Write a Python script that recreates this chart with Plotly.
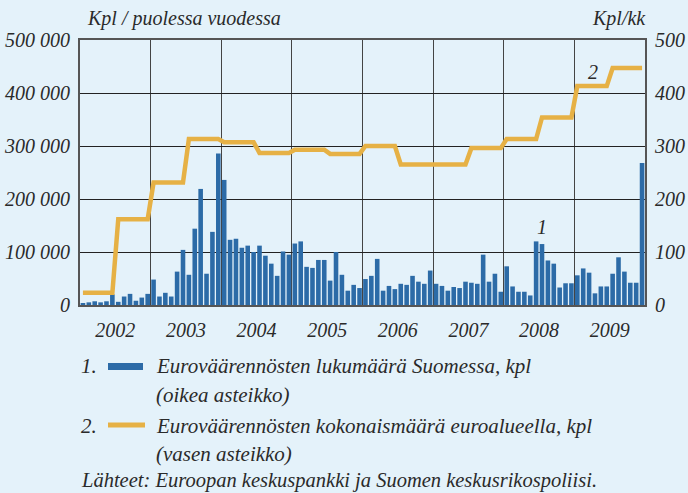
import numpy as np
import plotly.graph_objects as go

# ---- data ----
years = ["2002", "2003", "2004", "2005", "2006", "2007", "2008", "2009"]
# euro area total counterfeits per half-year (left axis)
halfyear_total = [23000, 162000, 231000, 313000, 307000, 287000, 293000, 285000,
                  300000, 265000, 265000, 296000, 313000, 354000, 413000, 447000]
# counterfeits found in Finland per month (right axis)
fi_2002 = [2, 5, 7, 5, 7, 20, 6, 16, 21, 8, 14, 21]
fi_2003 = [48, 16, 23, 16, 63, 104, 57, 144, 219, 59, 138, 286]
fi_2004 = [236, 123, 125, 108, 112, 100, 112, 93, 78, 55, 101, 95]
fi_2005 = [116, 120, 72, 70, 85, 85, 46, 100, 57, 27, 38, 32]
fi_2006 = [49, 55, 87, 27, 36, 30, 40, 38, 55, 44, 40, 65]
fi_2007 = [40, 36, 27, 34, 32, 44, 42, 40, 95, 44, 59, 25]
fi_2008 = [73, 35, 25, 25, 18, 120, 115, 84, 78, 33, 41, 41]
fi_2009 = [56, 69, 61, 22, 35, 35, 59, 90, 63, 42, 42, 268]
left_ticks = [0, 100000, 200000, 300000, 400000, 500000]
left_labels = ["0", "100 000", "200 000", "300 000", "400 000", "500 000"]
right_ticks = [0, 100, 200, 300, 400, 500]

monthly_fi = fi_2002 + fi_2003 + fi_2004 + fi_2005 + fi_2006 + fi_2007 + fi_2008 + fi_2009
months = np.arange(len(monthly_fi))
# each half-year value holds for its six months
monthly_total = np.repeat(halfyear_total, 6)

BG = "#E4F2FA"
BAR = "#2C6BA7"
LINE = "#E6B145"
TXT = "#2a2a2a"
FONT = "Liberation Serif"

fig = go.Figure()
fig.add_trace(go.Bar(x=months, y=monthly_fi, marker=dict(color=BAR, line=dict(width=0)),
                     yaxis="y", showlegend=False))
fig.add_trace(go.Scatter(x=months, y=monthly_total, mode="lines",
                         line=dict(color=LINE, width=4.5), yaxis="y2", showlegend=False))

L, R, T, B = 80, 43, 40, 188
W, H = 688, 493
pw, ph = W - L - R, H - T - B


def px(x):
    return (x - L) / pw


def py(y):
    return (H - B - y) / ph


year_centers = [5.5 + 12 * i for i in range(len(years))]
year_bounds = [11.5 + 12 * i for i in range(len(years) - 1)]

fig.update_layout(
    width=W, height=H,
    margin=dict(l=L, r=R, t=T, b=B, pad=0),
    paper_bgcolor=BG, plot_bgcolor=BG,
    font=dict(family=FONT, size=20, color=TXT, style="italic"),
    bargap=0.22,
    xaxis=dict(range=[-0.5, len(monthly_fi) - 0.5], tickvals=year_centers, ticktext=years,
               showgrid=False, zeroline=False, ticks="", ticklabelstandoff=6, automargin=False,
               showline=True, linecolor="#555", linewidth=2, mirror=True,
               minor=dict(tickvals=year_bounds, showgrid=True, gridcolor="#444",
                          gridwidth=1, ticks="")),
    yaxis=dict(range=[0, 500], tickvals=right_ticks, side="right", showgrid=True,
               gridcolor="#222", gridwidth=1.2, zeroline=False, ticks="", automargin=False,
               ticklabelstandoff=4, showline=True, linecolor="#555", linewidth=2),
    yaxis2=dict(range=[0, 500000], tickvals=left_ticks, ticktext=left_labels,
                overlaying="y", side="left", showgrid=False, zeroline=False, ticks="",
                automargin=False,
                ticklabelstandoff=4, showline=True, linecolor="#555", linewidth=2),
)

ann = []
ann.append(dict(x=px(85), y=py(18), xref="paper", yref="paper", text="Kpl / puolessa vuodessa",
                showarrow=False, xanchor="left", yanchor="middle", font=dict(size=20)))
ann.append(dict(x=px(648), y=py(18), xref="paper", yref="paper", text="Kpl/kk",
                showarrow=False, xanchor="right", yanchor="middle", font=dict(size=20)))
ann.append(dict(x=78, y=148, xref="x", yref="y", text="1", showarrow=False,
                xanchor="center", yanchor="middle", font=dict(size=20)))
ann.append(dict(x=86.7, y=440000, xref="x", yref="y2", text="2", showarrow=False,
                xanchor="center", yanchor="middle", font=dict(size=20)))

legend_rows = [
    ("1.", "Euroväärennösten lukumäärä Suomessa, kpl", "(oikea asteikko)", 366, 395),
    ("2.", "Euroväärennösten kokonaismäärä euroalueella, kpl", "(vasen asteikko)", 426, 454),
]
for num, t1, t2, y1, y2 in legend_rows:
    ann.append(dict(x=px(79), y=py(y1), xref="paper", yref="paper", text=num, showarrow=False,
                    xanchor="left", yanchor="middle", font=dict(size=21)))
    ann.append(dict(x=px(154), y=py(y1), xref="paper", yref="paper", text=t1, showarrow=False,
                    xanchor="left", yanchor="middle", font=dict(size=21)))
    ann.append(dict(x=px(154), y=py(y2), xref="paper", yref="paper", text=t2, showarrow=False,
                    xanchor="left", yanchor="middle", font=dict(size=21)))
ann.append(dict(x=px(79), y=py(481), xref="paper", yref="paper",
                text="Lähteet: Euroopan keskuspankki ja Suomen keskusrikospoliisi.",
                showarrow=False, xanchor="left", yanchor="middle", font=dict(size=20.5)))

shapes = [
    dict(type="rect", xref="paper", yref="paper", x0=px(108), x1=px(143), y0=py(370), y1=py(363),
         fillcolor=BAR, line=dict(width=0)),
    dict(type="line", xref="paper", yref="paper", x0=px(108), x1=px(145), y0=py(425), y1=py(425),
         line=dict(color=LINE, width=5)),
]
fig.update_layout(annotations=ann, shapes=shapes)

fig.write_html("out.html", config={"displayModeBar": False},
               post_script="document.body.style.margin='0';document.body.style.overflow='hidden';")
